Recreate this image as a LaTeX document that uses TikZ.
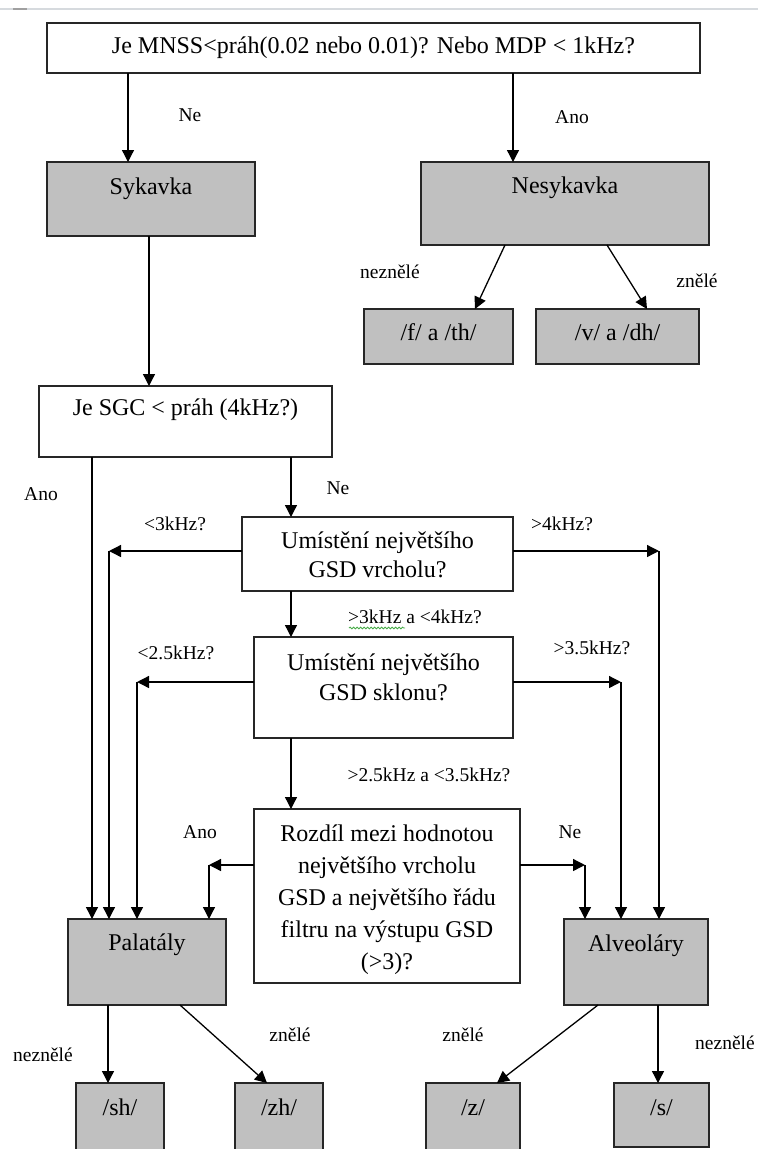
\documentclass[tikz,border=0pt]{standalone}
\usepackage{fontspec}
\setmainfont{Liberation Serif}
\usetikzlibrary{arrows.meta,decorations.pathmorphing}
\definecolor{boxgray}{RGB}{192,192,192}
\definecolor{edgegray}{RGB}{38,38,38}
\definecolor{barline}{RGB}{214,218,222}
\definecolor{barmark}{RGB}{160,160,160}
\definecolor{spellgreen}{RGB}{70,170,70}
\newcommand{\boxfont}{\fontsize{24}{31}\selectfont}
\newcommand{\tagfont}{\fontsize{19.5}{23}\selectfont}

\begin{document}
\begin{tikzpicture}[x=1pt,y=-1pt,
  frame/.style={draw=edgegray, line width=1.6pt, anchor=north west, inner sep=0pt, outer sep=0pt},
  plain/.style={frame, fill=white},
  shaded/.style={frame, fill=boxgray},
  % the shift puts the last line's baseline below the box top
  caption/.style={font=\boxfont, align=center, anchor=base, inner sep=0pt, yshift=-#1pt},
  caption/.default=31,
  tag/.style={font=\tagfont, inner sep=0pt, anchor=base},
  arr/.style={line width=1.3pt, -{Triangle[length=12pt,width=12pt]}},
]
\useasboundingbox (0,0) rectangle (758,1149);
\clip (0,0) rectangle (758,1149);

% window edge at the top
\draw[barline, line width=2pt] (0,9) -- (758,9);
\draw[barmark, line width=2pt] (13,9) -- (27,9);

% boxes
\node[plain, minimum width=653pt, minimum height=50pt,
  label={[caption=30]north:{Je MNSS<práh(0.02 nebo 0.01)? Nebo MDP < 1kHz?}}] (q1) at (47,23) {};
\node[shaded, minimum width=208pt, minimum height=74pt,
  label={[caption=32]north:{Sykavka}}] (syk) at (47,162) {};
\node[shaded, minimum width=288pt, minimum height=83pt,
  label={[caption]north:{Nesykavka}}] (nes) at (421,162) {};
\node[shaded, minimum width=149pt, minimum height=55pt,
  label={[caption]north:{/f/ a /th/}}] (fth) at (364,309) {};
\node[shaded, minimum width=163pt, minimum height=55pt,
  label={[caption]north:{/v/ a /dh/}}] (vdh) at (536,309) {};
\node[plain, minimum width=293pt, minimum height=71pt,
  label={[caption=29]north:{Je SGC < práh (4kHz?)}}] (sgc) at (39,386) {};
\node[plain, minimum width=271pt, minimum height=74pt,
  label={[caption=60, font=\fontsize{24}{29}\selectfont]north:{Umístění největšího\\GSD vrcholu?}}] (umi) at (242,517) {};
\node[plain, minimum width=259pt, minimum height=101pt,
  label={[caption=63, font=\fontsize{24}{30}\selectfont]north:{Umístění největšího\\GSD sklonu?}}] (skl) at (254,637) {};
\node[plain, minimum width=266pt, minimum height=174pt,
  label={[caption=160, font=\fontsize{24}{32}\selectfont]north:{Rozdíl mezi hodnotou\\největšího vrcholu\\GSD a největšího řádu\\filtru na výstupu GSD\\(>3)?}}] (roz) at (254,809) {};
\node[shaded, minimum width=158pt, minimum height=86pt,
  label={[caption]north:{Palatály}}] (pal) at (68,919) {};
\node[shaded, minimum width=144pt, minimum height=86pt,
  label={[caption=32]north:{Alveoláry}}] (alv) at (564,919) {};
\node[shaded, minimum width=88pt, minimum height=90pt,
  label={[caption=32]north:{/sh/}}] (sh) at (76,1083) {};
\node[shaded, minimum width=88pt, minimum height=90pt,
  label={[caption=32]north:{/zh/}}] (zh) at (235,1083) {};
\node[shaded, minimum width=94pt, minimum height=90pt,
  label={[caption=32]north:{/z/}}] (zz) at (426,1083) {};
\node[shaded, minimum width=95pt, minimum height=64pt,
  label={[caption=32]north:{/s/}}] (ss) at (614,1083) {};

% connector columns and bends
\coordinate (kNe) at (128,0);
\coordinate (kAno) at (513,0);
\coordinate (kSyk) at (149,0);
\coordinate (kSgcA) at (92,0);
\coordinate (kMid) at (291,0);
\coordinate (kSh) at (108,0);
\coordinate (kS) at (658,0);
\coordinate (d1s) at (505,0);
\coordinate (d1e) at (475,0);
\coordinate (d2s) at (607,0);
\coordinate (d2e) at (647,0);
\coordinate (p2s) at (180,0);
\coordinate (p2e) at (267,0);
\coordinate (a1s) at (598,0);
\coordinate (a1e) at (497,0);
\coordinate (uL) at (109,551);
\coordinate (uR) at (659,551);
\coordinate (sL) at (137,682);
\coordinate (sR) at (621,682);
\coordinate (rL) at (209,865);
\coordinate (rR) at (585,865);

% connectors
\draw[arr] (q1.south -| kNe) -- (syk.north -| kNe);
\draw[arr] (q1.south -| kAno) -- (nes.north -| kAno);
\draw[arr] (nes.south -| d1s) -- (fth.north -| d1e);
\draw[arr] (nes.south -| d2s) -- (vdh.north -| d2e);
\draw[arr] (syk.south -| kSyk) -- (sgc.north -| kSyk);
\draw[arr] (sgc.south -| kSgcA) -- (pal.north -| kSgcA);
\draw[arr] (sgc.south -| kMid) -- (umi.north -| kMid);
\draw[arr] (umi.west |- uL) -- (uL);
\draw[arr] (uL) -- (pal.north -| uL);
\draw[arr] (umi.east |- uR) -- (uR);
\draw[arr] (uR) -- (alv.north -| uR);
\draw[arr] (umi.south -| kMid) -- (skl.north -| kMid);
\draw[arr] (skl.west |- sL) -- (sL);
\draw[arr] (sL) -- (pal.north -| sL);
\draw[arr] (skl.east |- sR) -- (sR);
\draw[arr] (sR) -- (alv.north -| sR);
\draw[arr] (skl.south -| kMid) -- (roz.north -| kMid);
\draw[arr] (roz.west |- rL) -- (rL);
\draw[arr] (rL) -- (pal.north -| rL);
\draw[arr] (roz.east |- rR) -- (rR);
\draw[arr] (rR) -- (alv.north -| rR);
\draw[arr] (pal.south -| kSh) -- (sh.north -| kSh);
\draw[arr] (pal.south -| p2s) -- (zh.north -| p2e);
\draw[arr] (alv.south -| a1s) -- (zz.north -| a1e);
\draw[arr] (alv.south -| kS) -- (ss.north -| kS);

% branch labels
\node[tag] (tNe1) at (190,121) {Ne};
\node[tag] (tAno1) at (572,123) {Ano};
\node[tag] (tNez1) at (390,278) {neznělé};
\node[tag] (tZn1) at (697,287) {znělé};
\node[tag] (tAno2) at (41,500) {Ano};
\node[tag] (tNe2) at (338,494) {Ne};
\node[tag] (tLt3) at (175,530) {<3kHz?};
\node[tag] (tGt4) at (562,530) {>4kHz?};
\node[tag] (tMid1) at (415,623) {>3kHz a <4kHz?};
\node[tag] (tLt25) at (176,659) {<2.5kHz?};
\node[tag] (tGt35) at (592,654) {>3.5kHz?};
\node[tag] (tMid2) at (429,781) {>2.5kHz a <3.5kHz?};
\node[tag] (tAno3) at (200,838) {Ano};
\node[tag] (tNe3) at (570,838) {Ne};
\node[tag] (tNez2) at (43,1061) {neznělé};
\node[tag] (tZn2) at (290,1041) {znělé};
\node[tag] (tZn3) at (463,1041) {znělé};
\node[tag] (tNez3) at (725,1049) {neznělé};

% spell-check squiggle under the first frequency
\draw[spellgreen, line width=0.8pt, decorate,
  decoration={snake, amplitude=0.9pt, segment length=3.5pt}] (349,628) -- (405,628);
\end{tikzpicture}
\end{document}
